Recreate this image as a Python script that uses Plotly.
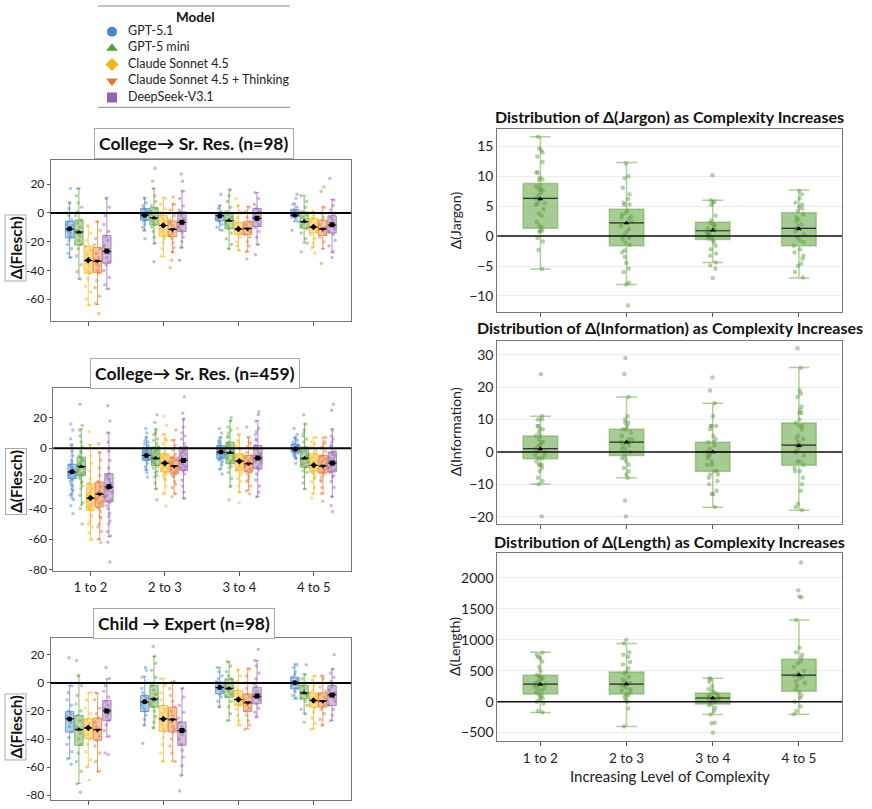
import plotly.graph_objects as go

# ---------------- data ----------------
TRANSITIONS = ["1 to 2", "2 to 3", "3 to 4", "4 to 5"]
MODELS = ["GPT-5.1", "GPT-5 mini", "Claude Sonnet 4.5", "Claude Sonnet 4.5 + Thinking", "DeepSeek-V3.1"]
FLESCH_TICKS = [20, 0, -20, -40, -60, -80]

# Panel A: College -> Sr. Res. (n=98); rows = models, cols = transitions
A_MED = [[-11.3, -1.6, -2.0, -1.6], [-13.3, -3.4, -5.4, -6.1], [-33.2, -8.8, -11.3, -9.9],
         [-33.7, -11.5, -11.0, -11.3], [-26.7, -6.6, -3.8, -8.4]]
A_Q1 = [[-17.4, -5.2, -5.6, -2.7], [-22.4, -8.4, -11.0, -10.6], [-42.0, -16.3, -15.1, -14.0],
        [-41.4, -16.5, -15.1, -15.8], [-35.0, -12.9, -9.5, -14.0]]
A_Q3 = [[-6.0, 3.0, 0.2, 2.3], [-5.0, 3.6, 0.2, 0.7], [-23.0, -1.6, -6.6, -3.8],
        [-24.0, -5.6, -6.1, -5.0], [-15.8, 0.7, 3.0, -2.0]]
A_LO = [[-31.0, -12.4, -12.0, -6.1], [-46.0, -21.5, -24.9, -20.8], [-64.0, -30.5, -26.0, -24.2],
        [-63.7, -27.6, -27.0, -24.9], [-53.0, -24.2, -22.0, -27.6]]
A_HI = [[7.0, 10.6, 5.2, 6.8], [17.0, 17.0, 16.5, 12.0], [-9.0, 10.8, 5.2, 1.1],
        [-6.3, 6.3, 4.5, 4.3], [10.6, 15.4, 14.2, 9.3]]
A_MEAN = [[-11.0, -1.7, -2.1, -1.5], [-13.5, -3.6, -5.3, -6.0], [-33.0, -8.7, -11.2, -9.8],
          [-33.5, -11.6, -11.0, -11.2], [-26.5, -6.5, -3.7, -8.3]]
A_PTS = [
    [[17, 7, 3, 0, -2, -5, -6, -8, -9, -10, -11, -12, -13, -14, -16, -17, -19, -22, -25, -28, -31],
     [10, 7, 5, 3, 2, 1, 0, -1, -2, -3, -4, -5, -6, -8, -10, -12, -18],
     [13, 5, 3, 1, 0, -1, -2, -3, -4, -5, -6, -8, -10, -12],
     [13, 10, 6, 4, 2, 1, 0, -1, -2, -3, -4, -6, -12]],
    [[17, 12, 7, 4, 1, -2, -5, -7, -10, -12, -14, -16, -19, -22, -25, -30, -36, -41, -46],
     [31, 22, 17, 12, 8, 5, 3, 1, -1, -3, -4, -6, -8, -10, -13, -17, -21, -34],
     [16, 12, 8, 4, 1, -1, -3, -5, -7, -9, -11, -14, -18, -22, -25],
     [12, 8, 4, 1, -1, -3, -5, -7, -9, -11, -14, -18, -21, -27]],
    [[-9, -14, -19, -23, -26, -29, -31, -33, -35, -37, -40, -42, -46, -51, -55, -60, -64],
     [10, 6, 3, 0, -2, -4, -6, -8, -9, -11, -13, -16, -18, -21, -25, -30],
     [10, 5, 1, -3, -6, -8, -10, -11, -12, -14, -15, -17, -20, -23, -26],
     [1, -2, -4, -6, -8, -10, -11, -13, -15, -18, -21, -24, -28]],
    [[-6, -12, -18, -22, -25, -28, -31, -33, -35, -37, -40, -42, -47, -52, -58, -63, -70],
     [11, 6, 2, -2, -5, -7, -9, -11, -12, -14, -16, -18, -21, -24, -27, -33, -38],
     [4, 1, -3, -6, -8, -10, -11, -12, -13, -15, -17, -20, -23, -27, -32],
     [18, 15, 4, 0, -3, -5, -8, -10, -11, -13, -15, -17, -20, -25, -35]],
    [[10, 4, -2, -8, -13, -16, -19, -23, -26, -28, -31, -34, -36, -40, -45, -50, -53],
     [27, 22, 15, 10, 5, 2, 0, -2, -4, -6, -8, -10, -12, -14, -17, -20, -24, -33],
     [14, 10, 6, 3, 1, -1, -3, -4, -6, -8, -10, -13, -17, -22, -29],
     [24, 9, 5, 2, -1, -3, -5, -7, -9, -11, -13, -15, -19, -23, -27, -31]],
]

# Panel B: College -> Sr. Res. (n=459)
B_MED = [[-15.7, -4.8, -2.6, -0.4], [-12.0, -6.6, -3.1, -6.6], [-33.0, -9.8, -8.5, -11.4],
         [-30.4, -11.8, -10.3, -11.8], [-25.6, -8.0, -6.6, -9.8]]
B_Q1 = [[-20.0, -8.0, -7.0, -2.6], [-18.0, -11.4, -10.3, -12.5], [-40.9, -15.7, -14.6, -15.7],
        [-38.7, -16.8, -15.7, -16.4], [-35.4, -14.6, -13.6, -15.7]]
B_Q3 = [[-10.7, 0.2, 1.7, 2.4], [-5.9, 0.7, 3.9, 0.7], [-23.4, -3.7, -3.7, -3.7],
        [-22.3, -5.9, -4.8, -4.8], [-16.8, 0.7, 1.7, -2.6]]
B_LO = [[-33.0, -14.6, -13.6, -7.0], [-37.6, -26.7, -25.6, -26.7], [-60.5, -30.0, -28.9, -30.0],
        [-60.0, -30.0, -27.8, -30.0], [-58.4, -33.2, -32.0, -32.0]]
B_HI = [[2.8, 7.2, 7.2, 7.2], [12.7, 12.7, 18.1, 16.0], [2.4, 9.4, 9.4, 7.2],
        [-2.6, 5.5, 7.2, 7.2], [10.5, 19.2, 18.1, 12.7]]
B_MEAN = [[-15.5, -4.9, -2.5, -0.5], [-12.2, -6.7, -3.0, -6.7], [-32.8, -9.9, -8.6, -11.3],
          [-30.2, -11.9, -10.2, -11.7], [-25.5, -8.1, -6.5, -9.7]]
B_PTS = [
    [[16, 12, 6, 2, -2, -5, -8, -10, -11, -12, -13, -14, -14.5, -15, -16, -16.5, -17, -17.5, -18, -19,
      -20, -21, -22, -24, -25, -27, -28, -30, -31, -34, -38, -43],
     [13, 10, 7, 5, 4, 3, 2, 1, 0, -0.5, -1.5, -2, -2.5, -3, -3.5, -4, -4.5, -5, -5.5, -6, -6.5, -7,
      -7.5, -8, -10, -12, -14, -16, -19],
     [13, 10, 7, 5, 4, 3, 2, 1, 0, -0.5, -1, -1.5, -2, -2.5, -3, -3.5, -4, -4.5, -5.5, -6, -6.5, -7,
      -8, -9, -11, -14, -17],
     [13, 9, 7, 6, 5, 4, 3, 2.5, 2, 1.5, 1, 0.5, 0, -0.5, -1, -1.5, -2, -2.5, -3, -3.5, -4, -5, -6,
      -7, -10]],
    [[29, 15, 12, 8, 4, 1, -2, -3, -5, -6, -7, -8, -9, -10, -11, -12, -13, -14, -15, -16, -17, -18,
      -19, -20, -22, -23, -25, -27, -31, -36, -40, -50],
     [22, 17, 12, 10, 9, 6, 5, 3, 1, 0, -1, -2, -3, -4, -5, -6, -7, -8, -9, -10, -11, -12, -13,
      -15, -16, -18, -19, -23, -27, -34],
     [20, 18, 14, 12, 10, 8, 7, 4, 3, 2, 1, 0, -1, -2, -3, -4, -5, -6, -7, -8, -9, -10, -12, -13,
      -16, -20, -25, -34],
     [22, 16, 12, 10, 8, 6, 4, 1, 0, -1, -2, -3, -4, -5, -6, -7, -8, -9, -10, -11, -12, -13, -15,
      -16, -19, -23, -27]],
    [[11, 2, -5, -10, -15, -20, -23, -24, -26, -27, -29, -30, -31, -32, -33, -34, -35, -36, -37, -38,
      -39, -40, -41, -44, -45, -48, -50, -52, -56, -60],
     [21, 15, 9, 6, 5, 3, 0, -3, -4, -5, -6, -7, -8, -9, -10, -11, -12, -13, -14, -15, -16, -17,
      -18, -20, -21, -25, -30, -38],
     [13, 9, 5, 4, 2, 0, -1, -4, -5, -6, -7, -8, -9, -10, -11, -12, -13, -14, -15, -16, -18, -20,
      -22, -25, -29, -36],
     [7, 4, 3, 1, 0, -2, -4, -6, -7, -8, -9, -10, -11, -12, -13, -14, -15, -16, -17, -19, -20, -22,
      -26, -30, -33]],
    [[3, -3, -8, -13, -18, -22, -23, -25, -26, -28, -29, -30, -31, -32, -33, -34, -35, -36, -37, -39,
      -40, -42, -45, -46, -50, -52, -55, -60, -62],
     [12, 5, 2, 0, -1, -4, -6, -7, -8, -9, -10, -11, -12, -13, -14, -15, -16, -17, -18, -19, -22,
      -24, -26, -30, -32],
     [14, 7, 4, 3, 1, 0, -3, -5, -6, -7, -8, -9, -10, -11, -12, -13, -14, -15, -16, -17, -19, -21,
      -22, -25, -28, -30],
     [7, 4, 3, 1, 0, -2, -5, -6, -7, -8, -9, -10, -11, -12, -13, -14, -15, -16, -17, -19, -21, -22,
      -26, -30, -35]],
    [[28, 18, 10, 4, -2, -8, -13, -17, -18, -20, -21, -23, -24, -26, -27, -28, -29, -31, -32, -34,
      -35, -36, -38, -40, -43, -45, -48, -50, -55, -58, -62, -75],
     [34, 23, 19, 14, 10, 8, 6, 3, 1, 0, -1, -2, -3, -4, -5, -6, -7, -8, -9, -10, -11, -12, -13,
      -14, -15, -17, -21, -25, -29, -33],
     [24, 22, 18, 13, 11, 9, 6, 5, 2, 1, 0, -1, -3, -4, -5, -6, -7, -8, -9, -10, -12, -13, -14, -17,
      -21, -25, -29, -32],
     [29, 25, 12, 8, 6, 4, 2, 1, -2, -3, -4, -5, -6, -7, -8, -9, -10, -11, -12, -13, -14, -15, -16,
      -18, -19, -22, -26, -32, -38, -42]],
]

# Panel C: Child -> Expert (n=98)
C_MED = [[-25.6, -13.7, -3.3, 0.0], [-33.1, -11.4, -3.8, -7.1], [-32.2, -25.6, -11.8, -12.5],
         [-33.4, -26.3, -14.2, -13.0], [-19.9, -34.1, -9.5, -8.5]]
C_Q1 = [[-35.0, -20.4, -7.8, -4.3], [-44.5, -17.3, -10.2, -11.4], [-39.8, -34.6, -16.1, -17.3],
        [-40.9, -35.0, -20.4, -17.3], [-26.7, -44.5, -14.9, -16.1]]
C_Q3 = [[-20.4, -9.0, 0.5, 4.0], [-23.2, -1.9, 2.8, -1.9], [-25.6, -16.1, -5.4, -7.1],
        [-25.1, -17.3, -7.8, -7.1], [-12.5, -27.9, -3.1, -1.9]]
C_LO = [[-54.0, -30.3, -17.3, -11.4], [-71.7, -32.2, -26.7, -22.0], [-59.9, -55.9, -30.3, -32.7],
        [-63.4, -55.9, -32.7, -30.3], [-38.6, -65.8, -24.4, -26.7]]
C_HI = [[-1.9, 4.7, 11.1, 13.5], [5.7, 18.9, 15.1, 6.4], [-7.1, 3.3, 9.5, 5.2],
        [-7.3, 0.9, 10.4, 5.2], [2.8, -3.8, 15.9, 9.9]]
C_MEAN = [[-25.8, -13.5, -3.2, 0.1], [-33.3, -11.6, -3.9, -7.2], [-32.0, -25.8, -11.9, -12.6],
          [-33.6, -26.1, -14.0, -13.1], [-20.1, -34.0, -9.4, -8.6]]
C_PTS = [
    [[18, -2, -7, -12, -16, -20, -22, -24, -26, -28, -31, -35, -39, -44, -49, -54, -58],
     [11, 9, 4, 0, -4, -7, -9, -11, -13, -14, -16, -18, -20, -23, -26, -30, -43],
     [11, 8, 5, 3, 1, 0, -2, -3, -4, -6, -8, -10, -13, -17],
     [13, 11, 8, 6, 4, 2, 1, 0, -1, -2, -4, -6, -9, -11]],
    [[16, 5, -2, -9, -15, -20, -23, -27, -31, -33, -36, -40, -44, -50, -56, -63, -72, -78],
     [26, 19, 14, 9, 4, 0, -2, -5, -8, -11, -13, -15, -17, -20, -24, -28, -32],
     [15, 12, 8, 5, 3, 0, -2, -4, -6, -8, -10, -13, -17, -22, -27],
     [13, 6, 3, 0, -2, -4, -6, -7, -9, -11, -13, -16, -19, -22, -28]],
    [[-7, -12, -18, -22, -26, -29, -31, -32, -34, -37, -40, -44, -49, -55, -60, -69],
     [3, -2, -7, -12, -16, -19, -22, -25, -27, -30, -33, -35, -39, -44, -50, -56],
     [9, 5, 1, -3, -5, -8, -10, -12, -13, -15, -16, -19, -23, -27, -30],
     [5, 2, -2, -5, -7, -9, -11, -12, -14, -16, -18, -21, -25, -29, -33]],
    [[-7, -12, -18, -22, -25, -28, -31, -33, -35, -38, -41, -45, -50, -56, -63],
     [1, -4, -9, -13, -17, -20, -23, -26, -28, -31, -33, -35, -40, -45, -50, -56],
     [10, 5, 0, -4, -8, -10, -12, -14, -16, -18, -20, -23, -27, -30, -33],
     [5, 3, 0, -3, -6, -8, -10, -12, -13, -15, -17, -19, -22, -26, -30]],
    [[11, 3, -2, -6, -10, -13, -16, -18, -20, -22, -24, -27, -30, -34, -38, -50, -51],
     [-4, -10, -16, -21, -25, -28, -31, -33, -35, -37, -40, -44, -48, -53, -59, -66, -77],
     [24, 16, 12, 7, 3, -1, -3, -6, -8, -10, -12, -15, -18, -21, -24],
     [20, 10, 7, 4, 1, -1, -3, -5, -7, -9, -11, -13, -16, -19, -23, -27]],
]

# Right column: single-series distributions per transition
JARGON_MED = [6.3, 2.2, 0.9, 1.3]
JARGON_Q1 = [1.3, -1.6, -0.55, -1.6]
JARGON_Q3 = [8.8, 4.5, 2.3, 3.9]
JARGON_LO = [-5.5, -8.1, -4.4, -7.0]
JARGON_HI = [16.6, 12.3, 6.0, 7.7]
JARGON_MEAN = [6.2, 2.2, 1.0, 1.2]
JARGON_PTS = [
    [16.6, 14.7, 14.3, 14.0, 13.3, 12.4, 10.7, 10.6, 9.8, 9.5, 9.4, 8.5, 8.3, 7.9, 7.8, 7.6, 7.2, 6.7,
     6.3, 5.9, 5.5, 5.4, 5.3, 4.5, 3.8, 3.4, 2.4, 1.8, 1.5, 1.0, 0.9, 0.7, -0.3, -0.9, -2.3, -5.5],
    [12.2, 10.0, 9.7, 8.1, 7.0, 6.2, 5.6, 5.3, 5.2, 4.3, 3.9, 3.6, 3.3, 3.1, 2.9, 2.4, 1.7, 1.2, 0.7,
     0.2, -0.3, -0.5, -1.1, -1.5, -2.4, -2.7, -3.5, -4.5, -5.4, -6.0, -7.8, -8.1, -11.6],
    [10.2, 6.0, 5.8, 5.6, 5.2, 3.4, 2.6, 2.2, 2.0, 1.8, 1.5, 1.3, 1.0, 0.8, 0.6, 0.4, 0.2, 0.0, -0.2,
     -0.4, -0.6, -1.0, -1.6, -2.2, -2.9, -3.3, -4.4, -4.9, -5.4, -7.0],
    [7.6, 7.0, 6.3, 5.6, 5.3, 4.9, 4.6, 4.2, 3.6, 3.1, 2.8, 2.5, 2.0, 1.7, 1.3, 0.8, 0.3, -0.2, -0.7,
     -1.0, -1.6, -2.2, -2.7, -3.3, -3.8, -4.6, -5.0, -6.0, -6.9],
]

INFO_MED = [1.0, 3.0, 0.0, 2.1]
INFO_Q1 = [-2.1, -1.1, -6.0, -4.1]
INFO_Q3 = [4.9, 7.0, 3.0, 8.9]
INFO_LO = [-9.9, -8.0, -17.1, -18.0]
INFO_HI = [11.0, 17.0, 15.0, 26.1]
INFO_MEAN = [0.9, 3.0, 0.0, 1.9]
INFO_PTS = [
    [24, 11, 10, 10, 8, 8, 7, 7, 6, 5, 5, 4, 3, 3, 2, 2, 1, 1, 0, 0, -1, -1, -2, -2, -3, -4, -4, -4,
     -5, -6, -8, -9, -10, -20],
    [29, 24, 17, 11, 10, 9, 9, 8, 7, 7, 6, 5, 4, 4, 3, 3, 3, 2, 2, 1, 1, 0, -1, -2, -2, -3, -4, -5,
     -6, -7, -8, -15, -20],
    [23, 19, 15, 11, 8, 8, 8, 7, 5, 4, 3, 3, 2, 1, 0, -1, -1, -2, -3, -4, -4, -6, -6, -7, -7, -8, -9,
     -10, -12, -13, -13, -17],
    [32, 26, 19, 18, 17, 14, 13, 12, 12, 10, 9, 8, 8, 7, 5, 4, 4, 3, 2, 2, 1, 0, 0, -1, -3, -3, -4,
     -5, -6, -6, -8, -10, -12, -16, -17, -18],
]

LENGTH_MED = [284, 284, 59, 428]
LENGTH_Q1 = [123, 123, -37, 166]
LENGTH_Q3 = [428, 481, 139, 685]
LENGTH_LO = [-177, -401, -209, -203]
LENGTH_HI = [797, 941, 380, 1321]
LENGTH_MEAN = [278, 285, 60, 430]
LENGTH_PTS = [
    [790, 760, 720, 700, 650, 560, 500, 430, 410, 390, 380, 350, 320, 300, 290, 280, 260, 240, 220,
     200, 180, 150, 120, 100, 80, 50, 30, 0, -30, -150, -177],
    [1000, 940, 800, 760, 720, 640, 600, 540, 480, 460, 400, 360, 330, 300, 280, 270, 250, 230, 200,
     180, 150, 120, 100, 80, 40, 0, -110, -401],
    [380, 360, 320, 250, 200, 180, 150, 130, 110, 100, 80, 60, 50, 40, 20, 0, -10, -40, -60, -100,
     -150, -209, -340, -350, -505],
    [2250, 1800, 1700, 1690, 1321, 870, 800, 760, 700, 650, 620, 560, 500, 460, 420, 400, 380, 330,
     300, 260, 200, 150, 100, 60, 0, -80, -150, -203],
]

# ---------------- style ----------------
FONT = "Lato"
COLORS = ["#4a86c5", "#5a9e3c", "#f2b316", "#e3722b", "#9461ad"]
SYMBOLS = ["circle", "triangle-up", "diamond", "triangle-down", "square"]
GREEN = "#6aaa4b"
W, H = 872, 809


def rgba(hexc, a):
    h = hexc.lstrip("#")
    return "rgba(%d,%d,%d,%s)" % (int(h[0:2], 16), int(h[2:4], 16), int(h[4:6], 16), a)


def px(x):
    return x / W


def py(y):
    return 1 - y / H


fig = go.Figure()


def add_flesch_panel(ax, med, q1, q3, lo, hi, mean, pts):
    xa, ya = "x" + ax, "y" + ax
    n = len(TRANSITIONS)
    for m, name in enumerate(MODELS):
        off = (m - 2) * 0.124
        xs = [t + off for t in range(n)]
        c = COLORS[m]
        fig.add_trace(go.Box(
            x=xs, y=pts[m], q1=q1[m], median=med[m], q3=q3[m],
            lowerfence=lo[m], upperfence=hi[m],
            boxpoints="all", jitter=0.85, pointpos=0, width=0.112, whiskerwidth=0.4,
            fillcolor=rgba(c, 0.42), line=dict(color=rgba(c, 0.7), width=1),
            marker=dict(color=rgba(c, 0.45), size=3.5),
            xaxis=xa, yaxis=ya, showlegend=False, hoverinfo="skip"))
        mx, my = [], []
        for t in range(n):
            mx += [xs[t] - 0.056, xs[t] + 0.056, None]
            my += [med[m][t], med[m][t], None]
        fig.add_trace(go.Scatter(x=mx, y=my, mode="lines", line=dict(color="black", width=1),
                                 xaxis=xa, yaxis=ya, showlegend=False, hoverinfo="skip"))
        fig.add_trace(go.Scatter(x=xs, y=mean[m], mode="markers",
                                 marker=dict(symbol=SYMBOLS[m], color="black", size=5),
                                 xaxis=xa, yaxis=ya, showlegend=False, hoverinfo="skip"))


def add_single_panel(ax, med, q1, q3, lo, hi, mean, pts):
    xa, ya = "x" + ax, "y" + ax
    xs = list(range(len(TRANSITIONS)))
    fig.add_trace(go.Box(
        x=xs, y=pts, q1=q1, median=med, q3=q3, lowerfence=lo, upperfence=hi,
        boxpoints="all", jitter=0.35, pointpos=0, width=0.4, whiskerwidth=0.6,
        fillcolor=rgba(GREEN, 0.6), line=dict(color=rgba(GREEN, 0.55), width=1.5),
        marker=dict(color=rgba("#5a963c", 0.45), size=4.5),
        xaxis=xa, yaxis=ya, showlegend=False, hoverinfo="skip"))
    mx, my = [], []
    for t in xs:
        mx += [t - 0.2, t + 0.2, None]
        my += [med[t], med[t], None]
    fig.add_trace(go.Scatter(x=mx, y=my, mode="lines", line=dict(color="#333333", width=1.2),
                             xaxis=xa, yaxis=ya, showlegend=False, hoverinfo="skip"))
    fig.add_trace(go.Scatter(x=xs, y=mean, mode="markers",
                             marker=dict(symbol="triangle-up", color="black", size=5),
                             xaxis=xa, yaxis=ya, showlegend=False, hoverinfo="skip"))


add_flesch_panel("", A_MED, A_Q1, A_Q3, A_LO, A_HI, A_MEAN, A_PTS)
add_flesch_panel("2", B_MED, B_Q1, B_Q3, B_LO, B_HI, B_MEAN, B_PTS)
add_flesch_panel("3", C_MED, C_Q1, C_Q3, C_LO, C_HI, C_MEAN, C_PTS)
add_single_panel("4", JARGON_MED, JARGON_Q1, JARGON_Q3, JARGON_LO, JARGON_HI, JARGON_MEAN, JARGON_PTS)
add_single_panel("5", INFO_MED, INFO_Q1, INFO_Q3, INFO_LO, INFO_HI, INFO_MEAN, INFO_PTS)
add_single_panel("6", LENGTH_MED, LENGTH_Q1, LENGTH_Q3, LENGTH_LO, LENGTH_HI, LENGTH_MEAN, LENGTH_PTS)

# legend (drawn on its own hidden axis so rows can be tightly spaced)
fig.add_trace(go.Scatter(x=[12] * len(MODELS), y=MODELS, mode="markers",
                         marker=dict(symbol=SYMBOLS, color=COLORS, size=10),
                         xaxis="x7", yaxis="y7", showlegend=False, hoverinfo="skip"))
fig.add_trace(go.Scatter(x=[28] * len(MODELS), y=MODELS, mode="text", text=MODELS,
                         textposition="middle right",
                         textfont=dict(family=FONT, size=12.5, color="#222"),
                         xaxis="x7", yaxis="y7", showlegend=False, hoverinfo="skip"))

# ---------------- axes ----------------
LEFT_X = dict(range=[-0.5, 3.5], tickvals=list(range(4)), ticktext=TRANSITIONS,
              ticks="outside", ticklen=4, tickcolor="#555", showline=True, mirror=True,
              linecolor="#777", linewidth=1, showgrid=False, zeroline=False,
              tickfont=dict(family=FONT, size=13, color="#222"))
LEFT_Y = dict(tickvals=FLESCH_TICKS, ticktext=[str(v) for v in FLESCH_TICKS],
              ticks="outside", ticklen=3, tickcolor="#555", showline=True, mirror=True,
              linecolor="#777", linewidth=1, showgrid=False, zeroline=False,
              tickfont=dict(family=FONT, size=12, color="#222"))
RIGHT_X = dict(range=[-0.5, 3.5], tickvals=list(range(4)), ticktext=TRANSITIONS,
               ticks="outside", ticklen=4, tickcolor="#555", showline=True, mirror=True,
               linecolor="#777", linewidth=1, showgrid=False, zeroline=False,
               tickfont=dict(family=FONT, size=13.5, color="#222"))
RIGHT_Y = dict(showline=True, mirror=True, linecolor="#777", linewidth=1, ticks="",
               showgrid=True, gridcolor="#ebebeb", gridwidth=1, zeroline=False,
               tickfont=dict(family=FONT, size=14, color="#222"))

xl_a, xl_b = px(50.7), px(351)
xl_b2 = px(53.3)
xr_a, xr_b = px(497.3), px(842)

fig.update_layout(
    xaxis=dict(LEFT_X, domain=[xl_a, xl_b], anchor="y", showticklabels=False),
    yaxis=dict(LEFT_Y, domain=[py(322.7), py(160.7)], anchor="x", range=[-75, 37]),
    xaxis2=dict(LEFT_X, domain=[xl_b2, xl_b], anchor="y2"),
    yaxis2=dict(LEFT_Y, domain=[py(575), py(390.7)], anchor="x2", range=[-81.3, 39.5]),
    xaxis3=dict(LEFT_X, domain=[xl_a, xl_b], anchor="y3", showticklabels=False),
    yaxis3=dict(LEFT_Y, domain=[py(805), py(642)], anchor="x3", range=[-83.5, 32]),
    xaxis4=dict(RIGHT_X, domain=[xr_a, xr_b], anchor="y4", showticklabels=False),
    yaxis4=dict(RIGHT_Y, domain=[py(314), py(129.3)], anchor="x4", range=[-12.7, 18.0], dtick=5),
    xaxis5=dict(RIGHT_X, domain=[xr_a, xr_b], anchor="y5", showticklabels=False),
    yaxis5=dict(RIGHT_Y, domain=[py(527), py(342.7)], anchor="x5", range=[-22.2, 34.4], dtick=10),
    xaxis6=dict(RIGHT_X, domain=[xr_a, xr_b], anchor="y6"),
    yaxis6=dict(RIGHT_Y, domain=[py(746), py(556.7)], anchor="x6", range=[-643, 2400], dtick=500),
    xaxis7=dict(domain=[px(100), px(300)], range=[0, 200], visible=False, fixedrange=True),
    yaxis7=dict(domain=[py(106.25), py(23.75)], type="category", categoryorder="array",
                categoryarray=MODELS, range=[4.5, -0.5], visible=False, fixedrange=True),
)

# zero lines
shapes = []
for ax, w, col in [("", 2, "black"), ("2", 2, "black"), ("3", 2, "black"),
                   ("4", 1.5, "#111"), ("5", 1.5, "#111"), ("6", 1.5, "#111")]:
    shapes.append(dict(type="line", xref="x%s domain" % ax, yref="y" + ax, x0=0, x1=1, y0=0, y1=0,
                       line=dict(color=col, width=w), layer="above"))
# legend rules
for yy in [6, 108]:
    shapes.append(dict(type="line", xref="paper", yref="paper", x0=px(98), x1=px(290),
                       y0=py(yy), y1=py(yy), line=dict(color="#888", width=1)))

annotations = []
BOXED = dict(bordercolor="#aaaaaa", borderwidth=1, showarrow=False,
             xref="paper", yref="paper", xanchor="center", yanchor="middle")
for txt, cx, cy in [("College\u2192 Sr. Res. (n=98)", 194, 144),
                    ("College\u2192 Sr. Res. (n=459)", 194.5, 376),
                    ("Child \u2192 Expert (n=98)", 183.5, 627)]:
    annotations.append(dict(BOXED, text="<b>%s</b>" % txt, x=px(cx), y=py(cy), borderpad=4,
                            bgcolor="white", font=dict(family=FONT, size=17.5, color="#111")))
for cy in [250, 485, 732]:
    annotations.append(dict(BOXED, text="<b>\u0394(Flesch)</b>", x=px(16), y=py(cy), borderpad=1,
                            textangle=-90, font=dict(family=FONT, size=15.5, color="#111")))
for txt, cy in [("Distribution of \u0394(Jargon) as Complexity Increases", 117),
                ("Distribution of \u0394(Information) as Complexity Increases", 330),
                ("Distribution of \u0394(Length) as Complexity Increases", 545)]:
    annotations.append(dict(text="<b>%s</b>" % txt, x=px(669.5), y=py(cy), showarrow=False,
                            xref="paper", yref="paper", xanchor="center", yanchor="middle",
                            font=dict(family=FONT, size=16, color="#111")))
for txt, cy in [("\u0394(Jargon)", 221.5), ("\u0394(Information)", 435), ("\u0394(Length)", 651)]:
    annotations.append(dict(text=txt, x=px(455), y=py(cy), showarrow=False, textangle=-90,
                            xref="paper", yref="paper", xanchor="center", yanchor="middle",
                            font=dict(family=FONT, size=14, color="#222")))
annotations.append(dict(text="Increasing Level of Complexity", x=px(669.5), y=py(781), showarrow=False,
                        xref="paper", yref="paper", xanchor="center", yanchor="middle",
                        font=dict(family=FONT, size=15, color="#222")))
annotations.append(dict(text="<b>Model</b>", x=px(195), y=py(17), showarrow=False,
                        xref="paper", yref="paper", xanchor="center", yanchor="middle",
                        font=dict(family=FONT, size=13.5, color="#111")))

fig.update_layout(
    width=W, height=H, margin=dict(l=0, r=0, t=0, b=0),
    paper_bgcolor="white", plot_bgcolor="white",
    font=dict(family=FONT, color="#222"),
    shapes=shapes, annotations=annotations, showlegend=False,
)

fig.write_html("out.html")
